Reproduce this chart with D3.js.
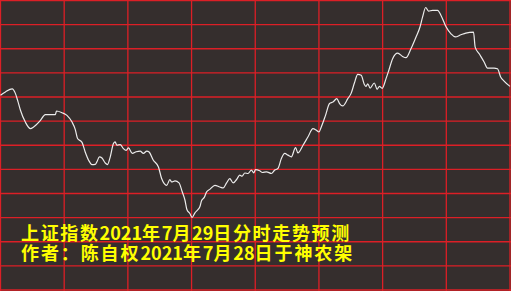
<!DOCTYPE html>
<html>
<head>
<meta charset="utf-8">
<script src="https://cdn.jsdelivr.net/npm/d3@7"></script>
<style>
  html, body { margin: 0; padding: 0; background: #352e2d; }
  #chart { width: 511px; height: 291px; }
</style>
</head>
<body>
<div id="chart"></div>
<script>
// minutes since 9:30 (0..240) and index level
const minutes = [
  0.0, 2.3, 5.5, 7.0, 8.2, 9.4, 11.7, 14.1, 15.6, 18.8, 21.1, 25.8, 26.4, 29.0, 31.3, 33.7, 35.2, 36.3, 38.4, 39.9,
  41.5, 43.1, 44.6, 45.4, 46.6, 47.8, 49.3, 50.4, 51.7, 53.2, 54.0, 54.8, 56.4, 57.9, 59.2, 60.3, 62.1, 63.9, 65.8, 67.3,
  68.9, 70.0, 72.0, 74.4, 75.9, 78.3, 79.8, 80.6, 82.2, 84.1, 85.6, 86.9, 87.8, 89.2, 90.3, 91.6, 93.1, 93.9, 94.7, 96.0,
  97.1, 98.6, 101.0, 103.3, 104.9, 106.5, 108.0, 109.6, 111.2, 112.7, 113.8, 115.1, 116.6, 118.2, 119.3, 120.1, 122.1, 123.4, 125.3, 127.6,
  129.2, 130.7, 132.3, 133.9, 135.4, 137.0, 139.0, 140.1, 142.5, 144.8, 147.2, 148.8, 150.0, 151.1, 153.1, 155.0, 156.6, 158.4, 159.7, 161.2,
  163.6, 165.2, 166.7, 168.3, 169.9, 171.4, 172.2, 173.0, 174.1, 176.1, 177.4, 178.5, 179.8, 181.6, 182.9, 184.7, 187.1, 189.4, 191.0, 193.4,
  195.7, 197.6, 198.8, 200.3, 201.6, 203.5, 205.9, 207.5, 209.8, 212.2, 214.2, 216.9, 219.2, 222.8, 223.6, 225.5, 227.8, 229.4, 232.5, 234.1,
  235.6, 237.2, 240.0
];
const prices = [
  3380.7, 3382.1, 3383.4, 3381.5, 3378.2, 3374.5, 3369.6, 3366.9, 3367.6, 3370.3, 3372.7, 3372.7, 3374.2, 3373.5, 3372.4, 3369.6, 3366.6, 3362.8, 3361.2, 3357.2,
  3353.8, 3352.0, 3352.1, 3353.1, 3355.2, 3354.7, 3352.7, 3352.0, 3355.2, 3360.7, 3361.4, 3360.0, 3360.3, 3358.6, 3357.9, 3358.9, 3356.6, 3357.3, 3357.6, 3356.6,
  3357.6, 3357.2, 3353.8, 3351.0, 3346.2, 3343.4, 3345.8, 3344.8, 3345.2, 3344.4, 3340.7, 3337.2, 3333.4, 3331.7, 3330.1, 3332.0, 3333.4, 3334.5, 3337.0, 3338.4,
  3340.7, 3341.7, 3343.4, 3342.7, 3342.3, 3344.4, 3346.2, 3344.4, 3345.8, 3347.6, 3347.2, 3348.5, 3348.3, 3349.7, 3348.5, 3349.9, 3349.4, 3348.7, 3349.0, 3348.3,
  3349.7, 3350.4, 3354.5, 3356.6, 3355.9, 3355.2, 3359.0, 3356.8, 3360.0, 3363.4, 3366.9, 3366.2, 3365.5, 3367.6, 3372.4, 3377.3, 3377.9, 3379.3, 3377.3, 3376.3,
  3379.3, 3381.6, 3385.8, 3389.4, 3389.0, 3385.2, 3384.4, 3385.5, 3383.7, 3385.8, 3383.2, 3384.4, 3383.6, 3387.6, 3391.0, 3395.9, 3398.2, 3396.8, 3396.3, 3400.1,
  3404.8, 3409.0, 3413.1, 3417.1, 3415.6, 3415.9, 3415.9, 3413.8, 3409.2, 3406.2, 3404.9, 3405.8, 3406.5, 3406.9, 3400.7, 3397.9, 3394.5, 3392.0, 3392.0, 3391.7,
  3388.3, 3386.6, 3384.4
];
const xTicks = d3.range(0, 241, 30);
const yTicks = d3.range(3300, 3421, 10);
const titleLines = [
  '上证指数2021年7月29日分时走势预测',
  '作者：陈自权2021年7月28日于神农架'
];

const width = 511;
const height = 291;

const svg = d3.select('#chart')
  .append('svg')
  .attr('width', width)
  .attr('height', height);

svg.append('rect')
  .attr('width', width)
  .attr('height', height)
  .attr('fill', '#352e2d');

const x = d3.scaleLinear().domain([0, 240]).range([0.5, 510]);
const y = d3.scaleLinear().domain([3300, 3420]).range([290, 0.5]);

// red grid
svg.append('g')
  .selectAll('line')
  .data(yTicks)
  .enter().append('line')
  .attr('x1', 0)
  .attr('x2', width)
  .attr('y1', d => y(d))
  .attr('y2', d => y(d))
  .attr('stroke', '#dc1f26')
  .attr('stroke-width', 1.3);

svg.append('g')
  .selectAll('line')
  .data(xTicks)
  .enter().append('line')
  .attr('x1', d => x(d))
  .attr('x2', d => x(d))
  .attr('y1', 0)
  .attr('y2', height)
  .attr('stroke', '#dc1f26')
  .attr('stroke-width', 1.3);

// price line
const data = minutes.map((m, i) => ({ m, p: prices[i] }));
const line = d3.line()
  .x(d => x(d.m))
  .y(d => y(d.p))
  .curve(d3.curveMonotoneX);

svg.append('path')
  .datum(data)
  .attr('fill', 'none')
  .attr('stroke', '#ececec')
  .attr('stroke-width', 1.2)
  .attr('d', line);

// caption: hanzi spaced out, digits kept tight
const hanziSpacing = [1.65, 1.9];
svg.selectAll('.cap')
  .data(titleLines)
  .enter().append('text')
  .attr('class', 'cap')
  .attr('x', 21)
  .attr('y', (d, i) => 240 + i * 20)
  .attr('fill', '#ffff00')
  .style('font-family', '"Noto Sans CJK SC", sans-serif')
  .style('font-weight', 'bold')
  .style('font-size', '18px')
  .each(function (d, i) {
    d3.select(this).selectAll('tspan')
      .data(d.match(/\d+|\D+/g))
      .enter().append('tspan')
      .attr('letter-spacing', s => /\d/.test(s) ? 0 : hanziSpacing[i])
      .text(s => s);
  });
</script>
</body>
</html>
